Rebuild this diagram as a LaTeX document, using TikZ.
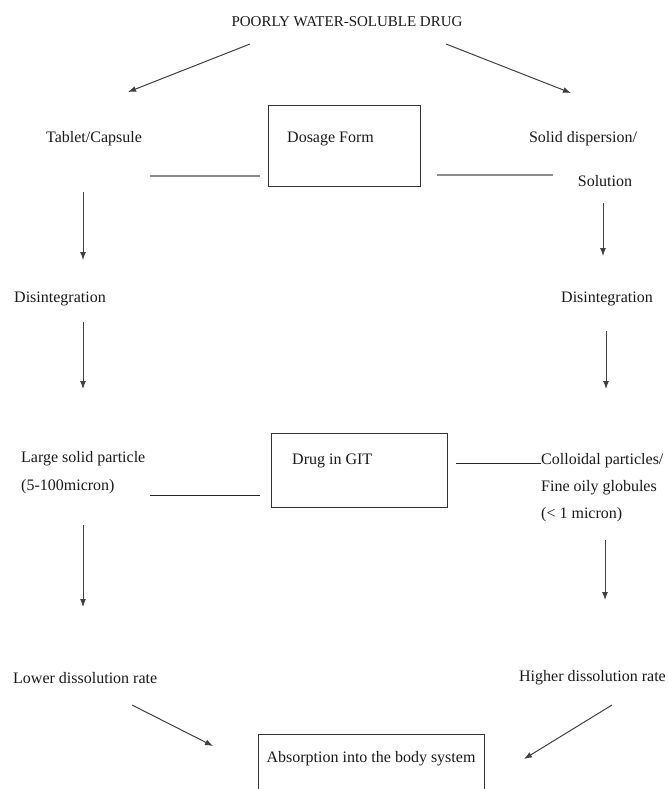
\documentclass[tikz,border=0pt]{standalone}
\usepackage{fontspec}
\setmainfont{Liberation Serif}
\usetikzlibrary{arrows.meta}
\begin{document}
\begin{tikzpicture}[x=1pt,y=-1pt,
  lbl/.style={inner sep=0pt, font=\fontsize{16}{19}\selectfont, text=black!90},
  ttl/.style={inner sep=0pt, font=\fontsize{15}{18}\selectfont, text=black!90},
  boxnode/.style={draw=black!80, line width=1pt, inner sep=0pt, anchor=north west},
  arr/.style={draw=black!75, line width=1pt, -{Latex[length=8pt,width=6pt]}},
  gline/.style={draw=black!45, line width=1.6pt},
  bline/.style={draw=black!85, line width=0.9pt}]
\useasboundingbox (0,0) rectangle (668,789);

% title
\node[ttl] (title) at (347,22) {POORLY WATER-SOLUBLE DRUG};
\coordinate (tl) at (250,44); \coordinate (tlend) at (128,92);
\coordinate (tr) at (446,44); \coordinate (trend) at (571,93);
\draw[arr] (tl) -- (tlend);
\draw[arr] (tr) -- (trend);

% row 1
\node[lbl] (tablet) at (94,139) {Tablet/Capsule};
\node[boxnode, minimum width=152pt, minimum height=81pt] (dosage) at (268,105) {};
\node[lbl, anchor=west] (dosagetxt) at (287,139) {Dosage Form};
\node[lbl] (soliddisp) at (583,139) {Solid dispersion/};
\node[lbl] (solution) at (605,181) {Solution};
\coordinate (g1a) at (150,176); \coordinate (g1b) at (260,176);
\coordinate (g2a) at (437,175); \coordinate (g2b) at (553,175);
\draw[gline] (g1a) -- (g1b);
\draw[gline] (g2a) -- (g2b);

% arrows to disintegration
\coordinate (a1s) at (83,192); \coordinate (a1e) at (83,260);
\coordinate (b1s) at (603,203); \coordinate (b1e) at (603,256);
\draw[arr] (a1s) -- (a1e);
\draw[arr] (b1s) -- (b1e);

\node[lbl] (disL) at (60,299) {Disintegration};
\node[lbl] (disR) at (607,299) {Disintegration};

\coordinate (a2s) at (83,322); \coordinate (a2e) at (83,389);
\coordinate (b2s) at (606,331); \coordinate (b2e) at (606,389);
\draw[arr] (a2s) -- (a2e);
\draw[arr] (b2s) -- (b2e);

% row 2
\node[lbl, anchor=west] (large) at (21,459) {Large solid particle};
\node[lbl, anchor=west] (largemic) at (21,487) {(5-100micron)};
\node[boxnode, minimum width=176pt, minimum height=74pt] (git) at (271,433) {};
\node[lbl, anchor=west] (gittxt) at (292,461) {Drug in GIT};
\coordinate (l1a) at (150,495); \coordinate (l1b) at (260,495);
\draw[bline] (l1a) -- (l1b);
\node[lbl, anchor=west] (colloid) at (541,461) {Colloidal particles/};
\node[lbl, anchor=west] (fine) at (541,488) {Fine oily globules};
\node[lbl, anchor=west] (micron) at (541,515) {(< 1 micron)};
\coordinate (l2a) at (456,463);
\draw[bline] (l2a) -- (colloid.west |- l2a);

\coordinate (a3s) at (83,525); \coordinate (a3e) at (83,607);
\coordinate (b3s) at (605,540); \coordinate (b3e) at (605,600);
\draw[arr] (a3s) -- (a3e);
\draw[arr] (b3s) -- (b3e);

% row 3
\node[lbl, anchor=west] (lower) at (13,678) {Lower dissolution rate};
\node[lbl, anchor=east] (higher) at (666,678) {Higher dissolution rate};
\node[boxnode, minimum width=226pt, minimum height=80pt] (absorb) at (258,734) {};
\node[lbl] (absorbtxt) at (371,759) {Absorption into the body system};
\coordinate (c1s) at (132,705); \coordinate (c1e) at (213,746);
\coordinate (c2s) at (612,705); \coordinate (c2e) at (524,759);
\draw[arr] (c1s) -- (c1e);
\draw[arr] (c2s) -- (c2e);
\end{tikzpicture}
\end{document}
